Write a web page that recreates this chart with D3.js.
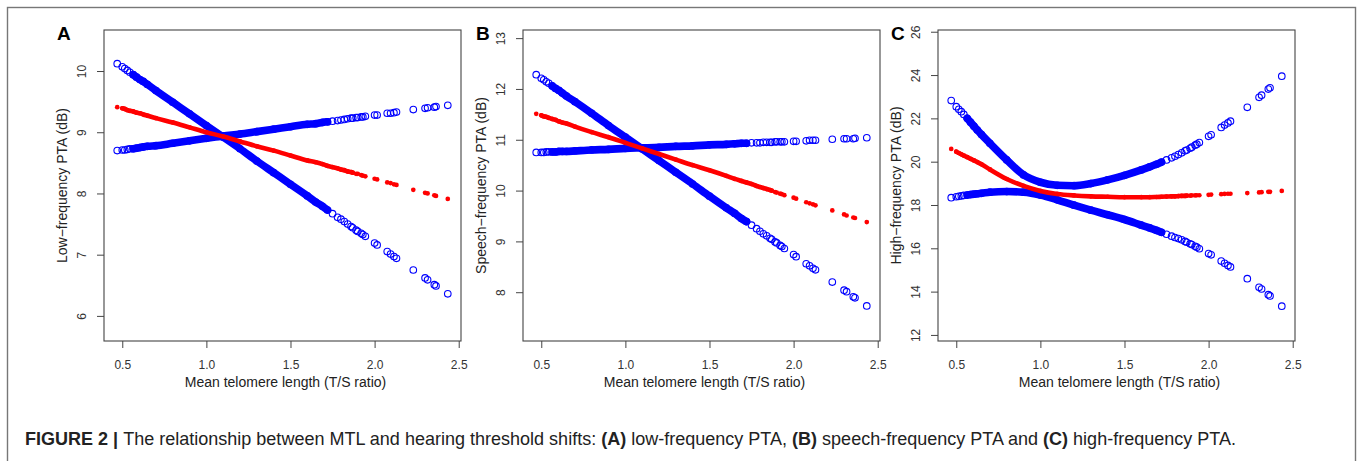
<!DOCTYPE html>
<html>
<head>
<meta charset="utf-8">
<script src="https://cdn.jsdelivr.net/npm/d3@7"></script>
<style>
  body { margin: 0; background: #fff; }
  svg text { font-family: "Liberation Sans", Arial, Helvetica, sans-serif; }
</style>
</head>
<body>
<svg id="fig" width="1360" height="461"></svg>
<script>
// mean telomere length (T/S ratio) of the subjects
const mtl = [0.47, 0.50, 0.515, 0.53, 0.545, 0.565, 0.585, 0.605, 0.625, 0.65,
  0.70, 0.80, 0.90, 1.00, 1.10, 1.20, 1.30, 1.40, 1.50, 1.60,
  1.65, 1.69, 1.72, 1.75, 1.78, 1.80, 1.82, 1.84, 1.86, 1.87,
  1.89, 1.90, 1.92, 1.93, 1.945, 2.00, 2.015, 2.075, 2.095, 2.115,
  2.13, 2.23, 2.30, 2.315, 2.355, 2.365, 2.435];

// A: low-frequency PTA (dB)
const lowFit = [9.41, 9.39, 9.38, 9.36, 9.35, 9.34, 9.32, 9.31, 9.29, 9.27,
  9.23, 9.16, 9.08, 9.00, 8.93, 8.85, 8.77, 8.70, 8.62, 8.54,
  8.51, 8.48, 8.45, 8.43, 8.41, 8.39, 8.38, 8.36, 8.35, 8.34,
  8.32, 8.32, 8.30, 8.29, 8.28, 8.24, 8.23, 8.18, 8.17, 8.15,
  8.14, 8.06, 8.01, 8.00, 7.97, 7.96, 7.91];
const lowCi1 = [10.12, 10.07, 10.04, 10.01, 9.98, 9.94, 9.90, 9.86, 9.83, 9.78,
  9.68, 9.49, 9.30, 9.11, 8.92, 8.73, 8.53, 8.34, 8.15, 7.96,
  7.86, 7.79, 7.73, 7.67, 7.61, 7.58, 7.54, 7.50, 7.46, 7.44,
  7.40, 7.38, 7.35, 7.33, 7.30, 7.19, 7.16, 7.05, 7.01, 6.97,
  6.94, 6.75, 6.62, 6.59, 6.51, 6.49, 6.36];
const lowCi2 = [8.70, 8.71, 8.71, 8.72, 8.73, 8.73, 8.74, 8.75, 8.76, 8.77,
  8.78, 8.82, 8.86, 8.90, 8.94, 8.97, 9.01, 9.05, 9.09, 9.13,
  9.14, 9.16, 9.17, 9.18, 9.19, 9.20, 9.21, 9.22, 9.23, 9.23,
  9.24, 9.24, 9.25, 9.25, 9.26, 9.28, 9.28, 9.31, 9.31, 9.32,
  9.33, 9.37, 9.39, 9.40, 9.41, 9.42, 9.44];

// B: speech-frequency PTA (dB)
const speechFit = [11.51, 11.48, 11.46, 11.45, 11.43, 11.41, 11.39, 11.36, 11.34, 11.32,
  11.26, 11.15, 11.05, 10.94, 10.83, 10.72, 10.61, 10.50, 10.40, 10.29,
  10.23, 10.19, 10.16, 10.13, 10.09, 10.07, 10.05, 10.03, 10.01, 10.00,
  9.97, 9.96, 9.94, 9.93, 9.91, 9.86, 9.84, 9.77, 9.75, 9.73,
  9.71, 9.61, 9.53, 9.51, 9.47, 9.46, 9.38];
const speechCi1 = [12.28, 12.21, 12.18, 12.14, 12.11, 12.06, 12.01, 11.97, 11.92, 11.86,
  11.75, 11.52, 11.28, 11.05, 10.82, 10.59, 10.36, 10.13, 9.89, 9.66,
  9.55, 9.45, 9.39, 9.32, 9.25, 9.20, 9.15, 9.11, 9.06, 9.04,
  8.99, 8.97, 8.92, 8.90, 8.86, 8.74, 8.70, 8.56, 8.52, 8.47,
  8.44, 8.20, 8.04, 8.01, 7.91, 7.89, 7.73];
const speechCi2 = [10.75, 10.75, 10.75, 10.76, 10.76, 10.76, 10.76, 10.77, 10.77, 10.77,
  10.78, 10.80, 10.81, 10.83, 10.84, 10.85, 10.87, 10.88, 10.90, 10.91,
  10.92, 10.93, 10.93, 10.94, 10.94, 10.94, 10.95, 10.95, 10.95, 10.95,
  10.96, 10.96, 10.96, 10.96, 10.96, 10.97, 10.97, 10.98, 10.99, 10.99,
  10.99, 11.01, 11.02, 11.02, 11.02, 11.03, 11.04];

// C: high-frequency PTA (dB)
const highFit = [20.59, 20.46, 20.40, 20.34, 20.28, 20.21, 20.13, 20.06, 19.98, 19.88,
  19.64, 19.20, 18.88, 18.65, 18.51, 18.44, 18.40, 18.38, 18.36, 18.36,
  18.36, 18.37, 18.38, 18.39, 18.40, 18.40, 18.41, 18.42, 18.42, 18.43,
  18.43, 18.44, 18.44, 18.45, 18.45, 18.47, 18.48, 18.50, 18.51, 18.52,
  18.52, 18.55, 18.58, 18.59, 18.61, 18.61, 18.65];
const highCi1 = [22.82, 22.54, 22.42, 22.31, 22.18, 22.00, 21.82, 21.64, 21.46, 21.25,
  20.85, 20.08, 19.39, 19.05, 18.91, 18.89, 18.99, 19.16, 19.37, 19.62,
  19.76, 19.88, 19.98, 20.08, 20.18, 20.25, 20.33, 20.41, 20.50, 20.54,
  20.62, 20.67, 20.76, 20.81, 20.88, 21.17, 21.24, 21.58, 21.69, 21.79,
  21.87, 22.51, 22.97, 23.07, 23.35, 23.41, 23.95];
const highCi2 = [18.34, 18.38, 18.40, 18.42, 18.44, 18.46, 18.48, 18.50, 18.52, 18.54,
  18.59, 18.62, 18.59, 18.46, 18.24, 17.99, 17.76, 17.55, 17.33, 17.07,
  16.94, 16.83, 16.74, 16.65, 16.56, 16.50, 16.45, 16.39, 16.32, 16.28,
  16.21, 16.17, 16.09, 16.05, 15.98, 15.76, 15.70, 15.41, 15.31, 15.21,
  15.14, 14.60, 14.20, 14.12, 13.86, 13.80, 13.33];

const xTicks = [0.5, 1.0, 1.5, 2.0, 2.5];
const lowTicks = [6, 7, 8, 9, 10];
const speechTicks = [8, 9, 10, 11, 12, 13];
const highTicks = [12, 14, 16, 18, 20, 22, 24, 26];

const xTitle = 'Mean telomere length (T/S ratio)';

const panels = [
  { tag: 'A', yTitle: 'Low−frequency PTA (dB)', fit: lowFit, ci: [lowCi1, lowCi2],
    ticks: lowTicks, yRange: [5.59, 10.67], left: 104 },
  { tag: 'B', yTitle: 'Speech−frequency PTA (dB)', fit: speechFit, ci: [speechCi1, speechCi2],
    ticks: speechTicks, yRange: [7.04, 13.16], left: 523 },
  { tag: 'C', yTitle: 'High−frequency PTA (dB)', fit: highFit, ci: [highCi1, highCi2],
    ticks: highTicks, yRange: [11.72, 26.08], left: 938 }
];

const svg = d3.select('#fig');
const boxW = 357, boxTop = 30, boxBottom = 341;

// outer frame of the figure
svg.append('rect')
  .attr('x', 7.5).attr('y', 7.5)
  .attr('width', 1348).attr('height', 480)
  .attr('fill', 'none').attr('stroke', '#777').attr('stroke-width', 1.4);

// R style x range: data range padded by 4%
const ext = d3.extent(mtl);
const pad = (ext[1] - ext[0]) * 0.04;

const band = (lo, hi) => (d => d.x >= lo && d.x <= hi);

panels.forEach(p => {
  const x = d3.scaleLinear().domain([ext[0] - pad, ext[1] + pad]).range([p.left, p.left + boxW]);
  const y = d3.scaleLinear().domain(p.yRange).range([boxBottom, boxTop]);
  const g = svg.append('g');

  const line = d3.line().x(d => x(d.x)).y(d => y(d.y)).curve(d3.curveMonotoneX);

  // blue bands (overlapping open circles in the original)
  p.ci.forEach(series => {
    const pts = mtl.map((v, i) => ({ x: v, y: series[i] }));
    g.append('path')
      .datum(pts.filter(band(0.56, 1.72)))
      .attr('d', line)
      .attr('fill', 'none')
      .attr('stroke', '#0000ff')
      .attr('stroke-width', 7.6)
      .attr('stroke-linecap', 'round');
    g.append('g').selectAll('circle').data(pts)
      .enter().append('circle')
      .attr('cx', d => x(d.x))
      .attr('cy', d => y(d.y))
      .attr('r', 3.3)
      .attr('fill', 'none')
      .attr('stroke', '#0000ff')
      .attr('stroke-width', 1.1);
  });

  // red fitted values
  const fitPts = mtl.map((v, i) => ({ x: v, y: p.fit[i] }));
  g.append('path')
    .datum(fitPts.filter(band(0.50, 1.87)))
    .attr('d', line)
    .attr('fill', 'none')
    .attr('stroke', '#ff0000')
    .attr('stroke-width', 4.6)
    .attr('stroke-linecap', 'round');
  g.append('g').selectAll('circle').data(fitPts)
    .enter().append('circle')
    .attr('cx', d => x(d.x))
    .attr('cy', d => y(d.y))
    .attr('r', 2.35)
    .attr('fill', '#ff0000');

  // box
  g.append('rect')
    .attr('x', p.left).attr('y', boxTop)
    .attr('width', boxW).attr('height', boxBottom - boxTop)
    .attr('fill', 'none').attr('stroke', '#444').attr('stroke-width', 1.1);

  // x axis
  const xAxisG = g.append('g')
    .attr('transform', `translate(0,${boxBottom})`)
    .call(d3.axisBottom(x).tickValues(xTicks).tickFormat(d3.format('.1f')).tickSize(7).tickPadding(12));
  xAxisG.select('.domain').remove();
  xAxisG.selectAll('.tick line').attr('stroke', '#444');
  xAxisG.selectAll('.tick text')
    .attr('fill', '#333').style('font-size', '12px')
    .style('font-family', '"Liberation Sans", Arial, sans-serif');

  // y axis, labels parallel to the axis
  const yAxisG = g.append('g')
    .attr('transform', `translate(${p.left},0)`)
    .call(d3.axisLeft(y).tickValues(p.ticks).tickFormat(d3.format('d')).tickSize(7));
  yAxisG.select('.domain').remove();
  yAxisG.selectAll('.tick line').attr('stroke', '#444');
  yAxisG.selectAll('.tick text')
    .attr('transform', 'rotate(-90)')
    .attr('text-anchor', 'middle')
    .attr('x', 0).attr('y', -22).attr('dy', '0.35em')
    .attr('fill', '#333').style('font-size', '12px')
    .style('font-family', '"Liberation Sans", Arial, sans-serif');

  g.append('text')
    .attr('x', p.left + boxW / 2 + 3).attr('y', 387)
    .attr('text-anchor', 'middle')
    .attr('fill', '#222').style('font-size', '14px')
    .text(xTitle);

  g.append('text')
    .attr('transform', `translate(${p.left - 42},${(boxTop + boxBottom) / 2}) rotate(-90)`)
    .attr('text-anchor', 'middle').attr('dy', '0.35em')
    .attr('fill', '#222').style('font-size', '14px')
    .text(p.yTitle);

  g.append('text')
    .attr('x', p.left - 47).attr('y', 40)
    .attr('fill', '#000').style('font-size', '19px').style('font-weight', 'bold')
    .text(p.tag);
});

// caption
const caption = [
  ['FIGURE 2 | ', true],
  ['The relationship between MTL and hearing threshold shifts: ', false],
  ['(A)', true], [' low-frequency PTA, ', false],
  ['(B)', true], [' speech-frequency PTA and ', false],
  ['(C)', true], [' high-frequency PTA.', false]
];
const cap = svg.append('text')
  .attr('x', 25).attr('y', 445)
  .attr('fill', '#222').style('font-size', '16px');
cap.selectAll('tspan').data(caption)
  .enter().append('tspan')
  .style('font-weight', d => d[1] ? 'bold' : 'normal')
  .text(d => d[0]);
const capLen = cap.node().getComputedTextLength();
cap.style('font-size', (16 * 1212 / capLen).toFixed(2) + 'px');
</script>
</body>
</html>
